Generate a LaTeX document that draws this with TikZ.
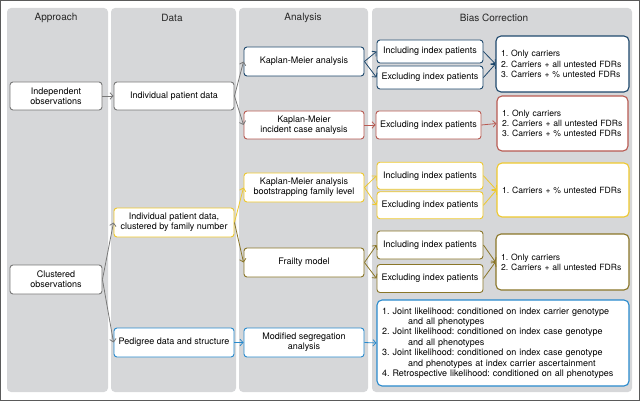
\documentclass[tikz,border=0pt]{standalone}
\usepackage{fontspec}
\setmainfont{TeX Gyre Heros}
\usetikzlibrary{arrows.meta}
\frenchspacing
\definecolor{navy}{RGB}{30,72,108}
\definecolor{redc}{RGB}{184,90,82}
\definecolor{yell}{RGB}{238,200,45}
\definecolor{olive}{RGB}{138,118,40}
\definecolor{lblue}{RGB}{40,138,205}
\definecolor{neutral}{RGB}{120,120,120}
\definecolor{colgray}{RGB}{214,215,217}
\definecolor{framegray}{RGB}{90,90,90}
\begin{document}
\begin{tikzpicture}[x=1pt,y=-1pt,
  col/.style={fill=colgray, draw=none, rounded corners=4pt},
  box/.style={draw=#1, fill=white, rounded corners=3pt, line width=0.9pt, align=center,
    font=\fontsize{9}{10.2}\selectfont\frenchspacing, inner sep=2pt},
  res/.style={draw=#1, fill=white, rounded corners=5pt, line width=1.1pt, align=left,
    font=\fontsize{8.6}{10.2}\selectfont\frenchspacing, inner xsep=5pt, inner ysep=2pt},
  arr/.style={draw=#1, line width=0.8pt, -{Straight Barb[length=3pt,width=6.5pt]}},
  hdr/.style={font=\fontsize{10}{12}\selectfont, text=black!85}]

\useasboundingbox (0,0) rectangle (640,401);
\draw[framegray, line width=1pt] (0.5,0.5) rectangle (639.5,400.5);

% columns
\fill[col] (7,8) rectangle (108,392);
\fill[col] (111,8) rectangle (236,392);
\fill[col] (239,8) rectangle (368,392);
\fill[col] (372,8) rectangle (632,392);

\node[hdr] (h1) at (56,18) {Approach};
\node[hdr] (h2) at (172,18) {Data};
\node[hdr] (h3) at (303,18) {Analysis};
\node[hdr] (h4) at (494,18) {Bias Correction};

% approach
\node[box=neutral, minimum width=92pt, minimum height=28pt] (indep) at (56,96) {Independent\\observations};
\node[box=neutral, minimum width=92pt, minimum height=29pt] (clust) at (56,279.5) {Clustered\\observations};

% data
\node[box=neutral, minimum width=120pt, minimum height=28pt] (ipd) at (174,96) {Individual patient data};
\node[box=yell, minimum width=120pt, minimum height=29pt] (ipdc) at (174,222.5) {Individual patient data,\\clustered by family number};
\node[box=lblue, minimum width=120pt, minimum height=29pt] (ped) at (174,342.5) {Pedigree data and structure};

% analysis
\node[box=navy, minimum width=120pt, minimum height=29pt] (km) at (304,61.5) {Kaplan-Meier analysis};
\node[box=redc, minimum width=120pt, minimum height=28pt] (kmi) at (304,125) {Kaplan-Meier\\incident case analysis};
\node[box=yell, minimum width=120pt, minimum height=29pt] (kmb) at (304,187.5) {Kaplan-Meier analysis\\bootstrapping family level};
\node[box=olive, minimum width=120pt, minimum height=29pt] (frail) at (304,262.5) {Frailty model};
\node[box=lblue, minimum width=120pt, minimum height=29pt] (mod) at (304,342.5) {Modified segregation\\analysis};

% bias correction
\node[box=navy, minimum width=106pt, minimum height=23pt] (kmInc) at (430,51.5) {Including index patients};
\node[box=navy, minimum width=106pt, minimum height=23pt] (kmExc) at (430,77.5) {Excluding index patients};
\node[res=navy, minimum width=133pt, minimum height=56pt, text width=123pt] (kmRes) at (562.5,64)
  {1. Only carriers\\2. Carriers + all untested FDRs\\3. Carriers + \% untested FDRs};

\node[box=redc, minimum width=105pt, minimum height=28pt] (kmiExc) at (428.5,125) {Excluding index patients};
\node[res=redc, minimum width=131pt, minimum height=55pt, text width=121pt] (kmiRes) at (562.5,123.5)
  {1. Only carriers\\2. Carriers + all untested FDRs\\3. Carriers + \% untested FDRs};

\node[box=yell, minimum width=106pt, minimum height=27pt] (kmbInc) at (430,175.75) {Including index patients};
\node[box=yell, minimum width=106pt, minimum height=27pt] (kmbExc) at (430,205.25) {Excluding index patients};
\node[res=yell, minimum width=132pt, minimum height=54pt, text width=122pt] (kmbRes) at (563,190)
  {1. Carriers + \% untested FDRs};

\node[box=olive, minimum width=106pt, minimum height=28pt] (frInc) at (430,245) {Including index patients};
\node[box=olive, minimum width=106pt, minimum height=28pt] (frExc) at (430,278.5) {Excluding index patients};
\node[res=olive, minimum width=133pt, minimum height=56pt, text width=123pt] (frRes) at (562.5,262)
  {1. Only carriers\\2. Carriers + all untested FDRs};

\node[res=lblue, font=\fontsize{9}{10.35}\selectfont\frenchspacing, minimum width=252pt, minimum height=86pt, text width=242pt] (modRes) at (503,343)
  {1. Joint likelihood: conditioned on index carrier genotype\\
   \hspace*{26pt}and all phenotypes\\
   2. Joint likelihood: conditioned on index case genotype\\
   \hspace*{26pt}and all phenotypes\\
   3. Joint likelihood: conditioned on index case genotype\\
   \hspace*{26pt}and phenotypes at index carrier ascertainment\\
   4. Retrospective likelihood: conditioned on all phenotypes};

% arrows
\draw[arr=neutral] (indep.east) -- (ipd.west);
\draw[arr=neutral] (ipd.east) -- (km.west);
\draw[arr=neutral] (ipd.east) -- (kmi.west);
\draw[arr=neutral] (clust.east) -- (ipdc.west);
\draw[arr=neutral] (clust.east) -- (ped.west);
\draw[arr=yell] (ipdc.east) -- (kmb.west);
\draw[arr=olive] (ipdc.east) -- (frail.west);
\draw[arr=lblue] (ped.east) -- (mod.west);
\draw[arr=lblue] (mod.east) -- (modRes.west);

\draw[arr=navy] (km.east) -- (kmInc.west);
\draw[arr=navy] (km.east) -- (kmExc.west);
\draw[arr=navy] (kmInc.east) -- (kmRes.west);
\draw[arr=navy] (kmExc.east) -- (kmRes.west);

\draw[arr=redc] (kmi.east) -- (kmiExc.west);
\draw[arr=redc] (kmiExc.east) -- (kmiRes.west);

\draw[arr=yell] (kmb.east) -- (kmbInc.west);
\draw[arr=yell] (kmb.east) -- (kmbExc.west);
\draw[arr=yell] (kmbInc.east) -- (kmbRes.west);
\draw[arr=yell] (kmbExc.east) -- (kmbRes.west);

\draw[arr=olive] (frail.east) -- (frInc.west);
\draw[arr=olive] (frail.east) -- (frExc.west);
\draw[arr=olive] (frInc.east) -- (frRes.west);
\draw[arr=olive] (frExc.east) -- (frRes.west);
\end{tikzpicture}
\end{document}
